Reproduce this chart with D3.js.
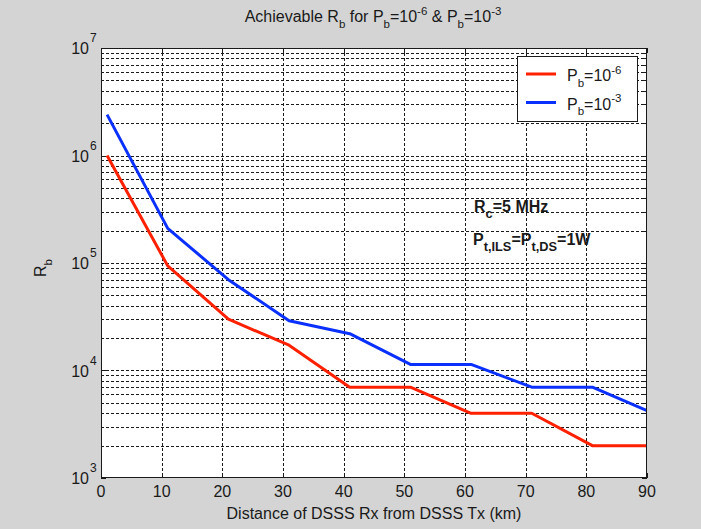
<!DOCTYPE html>
<html><head><meta charset="utf-8">
<script src="https://cdn.jsdelivr.net/npm/d3@7"></script>
<style>
html,body{margin:0;padding:0;background:#d4d4d4;}
svg{display:block;}
text{font-family:"Liberation Sans",Arial,sans-serif;fill:#1a1a1a;}
</style></head>
<body>
<script>
// ---- data ----
const distances = [1, 11, 21, 31, 41, 51, 61, 71, 81, 91];
const rbPb6 = [1.0e6, 9.4e4, 3.0e4, 1.72e4, 7.0e3, 7.0e3, 4.0e3, 4.0e3, 2.0e3, 2.0e3];
const rbPb3 = [2.4e6, 2.1e5, 7.0e4, 2.9e4, 2.2e4, 1.14e4, 1.14e4, 7.0e3, 7.0e3, 4.0e3];
const xTicks = [0, 10, 20, 30, 40, 50, 60, 70, 80, 90];
const yExponents = [3, 4, 5, 6, 7];
const seriesNames = ["-6", "-3"];
const seriesColors = ["#ff2000", "#0a30ff"];

const W = 701, H = 529;
const m = {left: 101, right: 54, top: 48, bottom: 51};
const iw = W - m.left - m.right, ih = H - m.top - m.bottom;

const svg = d3.select("body").append("svg").attr("width", W).attr("height", H);
svg.append("rect").attr("width", W).attr("height", H).attr("fill", "#d4d4d4");

const x = d3.scaleLinear().domain([0, 90]).range([m.left, m.left + iw]);
const y = d3.scaleLog().domain([1e3, 1e7]).range([m.top + ih, m.top]);

svg.append("rect").attr("x", m.left).attr("y", m.top).attr("width", iw).attr("height", ih).attr("fill", "#fff");

// grid
const minorVals = [];
for (let e = 3; e < 7; e++) for (let k = 1; k <= 9; k++) minorVals.push(k * Math.pow(10, e));
const g = svg.append("g");
g.selectAll("line.hg").data(minorVals.filter(v => v > 1e3)).enter().append("line")
  .attr("x1", m.left).attr("x2", m.left + iw)
  .attr("y1", d => Math.round(y(d)) + 0.5).attr("y2", d => Math.round(y(d)) + 0.5)
  .attr("stroke", "#1a1a1a").attr("stroke-width", 1).attr("stroke-dasharray", "3,2");
g.selectAll("line.vg").data(xTicks.slice(1, -1)).enter().append("line")
  .attr("y1", m.top).attr("y2", m.top + ih)
  .attr("x1", d => Math.round(x(d)) + 0.5).attr("x2", d => Math.round(x(d)) + 0.5)
  .attr("stroke", "#1a1a1a").attr("stroke-width", 1).attr("stroke-dasharray", "3,2");

// ticks (inward, on all sides)
const tk = svg.append("g").attr("stroke", "#1a1a1a").attr("stroke-width", 1);
xTicks.forEach(d => {
  const px = Math.round(x(d)) + 0.5;
  tk.append("line").attr("x1", px).attr("x2", px).attr("y1", m.top + ih).attr("y2", m.top + ih - 5);
  tk.append("line").attr("x1", px).attr("x2", px).attr("y1", m.top).attr("y2", m.top + 5);
});
minorVals.concat([1e7]).forEach(d => {
  const py = Math.round(y(d)) + 0.5;
  const len = (Math.log10(d) % 1 === 0) ? 5 : 3;
  tk.append("line").attr("x1", m.left).attr("x2", m.left + len).attr("y1", py).attr("y2", py);
  tk.append("line").attr("x1", m.left + iw).attr("x2", m.left + iw - len).attr("y1", py).attr("y2", py);
});

// series
const clip = svg.append("clipPath").attr("id", "clip").append("rect")
  .attr("x", m.left).attr("y", m.top).attr("width", iw).attr("height", ih);
const line = d3.line().x(d => x(d[0])).y(d => y(d[1]));
[rbPb6, rbPb3].forEach((vals, i) => {
  svg.append("path").datum(distances.map((d, j) => [d, vals[j]]))
    .attr("clip-path", "url(#clip)")
    .attr("fill", "none").attr("stroke", seriesColors[i]).attr("stroke-width", 3)
    .attr("stroke-linejoin", "round").attr("d", line);
});

// axis box
svg.append("rect").attr("x", m.left + 0.5).attr("y", m.top + 0.5).attr("width", iw - 1).attr("height", ih - 1)
  .attr("fill", "none").attr("stroke", "#1a1a1a").attr("stroke-width", 1);

// helper for rich text
function rich(sel, parts, size, scale) {
  const sc = scale || 0.72;
  parts.forEach(p => {
    const ts = sel.append("tspan").text(p.t);
    if (p.s === "sub") ts.attr("font-size", size * sc).attr("dy", size * 0.35);
    else if (p.s === "sup") ts.attr("font-size", size * sc).attr("dy", -size * 0.45);
    else ts.attr("font-size", size);
    p._ts = ts;
  });
  for (let i = 1; i < parts.length; i++) {
    const prev = parts[i - 1].s;
    if (prev === "sub" && parts[i].s !== "sub") parts[i]._ts.attr("dy", (parts[i].s === "sup" ? -0.45 : 0) * size - size * 0.35);
    else if (prev === "sup" && parts[i].s !== "sup") parts[i]._ts.attr("dy", (parts[i].s === "sub" ? 0.35 : 0) * size + size * 0.45);
  }
  return sel;
}

// x tick labels
svg.append("g").selectAll("text").data(xTicks).enter().append("text")
  .attr("x", d => x(d)).attr("y", m.top + ih + 19).attr("text-anchor", "middle")
  .attr("font-size", 16).text(d => d);

// y tick labels
yExponents.forEach(e => {
  svg.append("text").attr("x", m.left - 12).attr("y", y(Math.pow(10, e)) + 6)
    .attr("text-anchor", "end").attr("font-size", 16).text("10");
  svg.append("text").attr("x", m.left - 11).attr("y", y(Math.pow(10, e)) - 6)
    .attr("font-size", 12).text(e);
});

// title
rich(svg.append("text").attr("x", 373).attr("y", 22).attr("text-anchor", "middle"),
  [{t: "Achievable R"}, {t: "b", s: "sub"}, {t: " for P"}, {t: "b", s: "sub"}, {t: "=10"},
   {t: "-6", s: "sup"}, {t: " & P"}, {t: "b", s: "sub"}, {t: "=10"}, {t: "-3", s: "sup"}], 16);

// x label
svg.append("text").attr("x", x(45)).attr("y", 519).attr("text-anchor", "middle")
  .attr("font-size", 16).text("Distance of DSSS Rx from DSSS Tx (km)");

// y label
rich(svg.append("text").attr("transform", "translate(46,268) rotate(-90)")
  .attr("text-anchor", "middle"), [{t: "R"}, {t: "b", s: "sub"}], 16);

// legend
const lg = svg.append("g");
lg.append("rect").attr("x", 517.5).attr("y", 56.5).attr("width", 120).attr("height", 65)
  .attr("fill", "#fff").attr("stroke", "#1a1a1a");
seriesNames.forEach((nm, i) => {
  const ly = 74 + i * 28.5;
  lg.append("line").attr("x1", 526).attr("x2", 556).attr("y1", ly).attr("y2", ly)
    .attr("stroke", seriesColors[i]).attr("stroke-width", 3);
  rich(lg.append("text").attr("x", 567).attr("y", ly + 7),
    [{t: "P"}, {t: "b", s: "sub"}, {t: "=10"}, {t: nm, s: "sup"}], 16);
});

// annotations
rich(svg.append("text").attr("x", 474).attr("y", 212).attr("font-weight", "bold"),
  [{t: "R"}, {t: "c", s: "sub"}, {t: "=5 MHz"}], 16, 0.8);
rich(svg.append("text").attr("x", 473).attr("y", 245).attr("font-weight", "bold"),
  [{t: "P"}, {t: "t,ILS", s: "sub"}, {t: "=P"}, {t: "t,DS", s: "sub"}, {t: "=1W"}], 16, 0.8);
</script>
</body></html>
